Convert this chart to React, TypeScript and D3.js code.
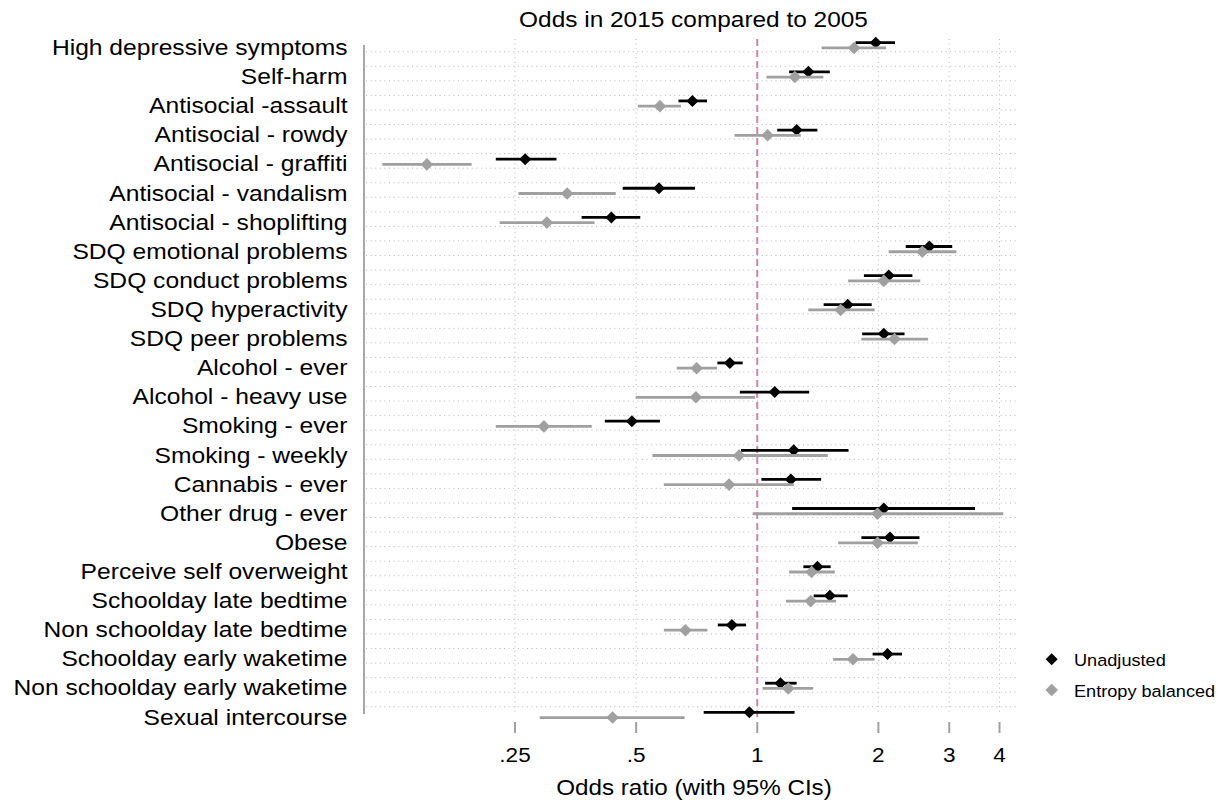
import React from "react";
import * as d3 from "d3";

const labels = [
  "High depressive symptoms",
  "Self-harm",
  "Antisocial -assault",
  "Antisocial - rowdy",
  "Antisocial - graffiti",
  "Antisocial - vandalism",
  "Antisocial - shoplifting",
  "SDQ emotional problems",
  "SDQ conduct problems",
  "SDQ hyperactivity",
  "SDQ peer problems",
  "Alcohol - ever",
  "Alcohol - heavy use",
  "Smoking - ever",
  "Smoking - weekly",
  "Cannabis - ever",
  "Other drug - ever",
  "Obese",
  "Perceive self overweight",
  "Schoolday late bedtime",
  "Non schoolday late bedtime",
  "Schoolday early waketime",
  "Non schoolday early waketime",
  "Sexual intercourse",
];

const unadjOR = [1.97, 1.34, 0.69, 1.253, 0.265, 0.57, 0.434, 2.678, 2.122, 1.678, 2.063, 0.855, 1.105, 0.488, 1.232, 1.212, 2.063, 2.137, 1.411, 1.515, 0.865, 2.107, 1.142, 0.956];
const unadjLo = [1.755, 1.2, 0.637, 1.121, 0.224, 0.463, 0.366, 2.339, 1.841, 1.462, 1.823, 0.796, 0.905, 0.418, 0.911, 1.024, 1.221, 1.815, 1.302, 1.381, 0.798, 1.935, 1.046, 0.736];
const unadjHi = [2.2, 1.515, 0.75, 1.411, 0.317, 0.7, 0.512, 3.052, 2.43, 1.925, 2.323, 0.92, 1.346, 0.573, 1.686, 1.441, 3.477, 2.53, 1.522, 1.678, 0.938, 2.29, 1.253, 1.238];

const balOR = [1.74, 1.24, 0.573, 1.061, 0.151, 0.337, 0.3, 2.572, 2.063, 1.611, 2.194, 0.707, 0.704, 0.295, 0.901, 0.851, 1.99, 1.99, 1.365, 1.358, 0.663, 1.73, 1.195, 0.437];
const balLo = [1.445, 1.054, 0.505, 0.878, 0.117, 0.255, 0.229, 2.122, 1.682, 1.339, 1.815, 0.631, 0.499, 0.224, 0.549, 0.586, 0.974, 1.589, 1.2, 1.178, 0.586, 1.544, 1.031, 0.288];
const balHi = [2.09, 1.46, 0.646, 1.283, 0.195, 0.445, 0.394, 3.125, 2.542, 1.957, 2.659, 0.794, 0.988, 0.388, 1.497, 1.232, 4.087, 2.506, 1.559, 1.57, 0.752, 1.957, 1.378, 0.66];

const tickValues = [0.25, 0.5, 1, 2, 3, 4];
const tickLabels = [".25", ".5", "1", "2", "3", "4"];
const seriesNames = ["Unadjusted", "Entropy balanced"];

const FONT = "'Liberation Sans', Arial, Helvetica, sans-serif";

function T({ x, y, size, anchor = "start", sx = 1.1, children }: any) {
  return (
    <text
      transform={`translate(${x},${y}) scale(${sx},1)`}
      fontSize={size}
      fontFamily={FONT}
      textAnchor={anchor}
      fill="#000"
    >
      {children}
    </text>
  );
}

function diamond(cx: number, cy: number, r: number) {
  return `M${cx},${cy - r}L${cx + r},${cy}L${cx},${cy + r}L${cx - r},${cy}Z`;
}

export default function App() {
  const W = 1232;
  const H = 805;
  const x = d3.scaleLog().base(2).domain([0.25, 4]).range([515, 999.5]);
  const y = d3.scaleLinear().domain([0, labels.length - 1]).range([42.7, 712.3]);
  const grayOff = 0.18;
  const plotLeft = 364;
  const plotRight = 1019;
  const gridTop = 39;
  const gridBottom = 715;

  const hGrid = d3.range(46).map((k) => y(0.31 + 0.5 * k));
  const black = "#000";
  const gray = "#a0a0a0";

  return (
    <svg width={W} height={H} style={{ position: "absolute", left: 0, top: 0, background: "#fff" }}>
      <rect x={0} y={0} width={W} height={H} fill="#fff" />
      {hGrid.map((gy, k) => (
        <line key={"h" + k} x1={plotLeft + 2} x2={plotRight} y1={gy} y2={gy} stroke="#b8b8b8" strokeWidth={1} strokeDasharray="1,3.6" />
      ))}
      {tickValues.filter((v) => v !== 1).map((v, k) => (
        <line key={"v" + k} x1={x(v)} x2={x(v)} y1={gridTop} y2={gridBottom} stroke="#b8b8b8" strokeWidth={1} strokeDasharray="1,3.6" />
      ))}
      <line x1={plotLeft} x2={plotLeft} y1={45} y2={714} stroke="#a8a8a8" strokeWidth={2} />
      {tickValues.map((v, k) => (
        <line key={"t" + k} x1={x(v)} x2={x(v)} y1={722} y2={733} stroke="#a0a0a0" strokeWidth={2} />
      ))}
      <line x1={x(1)} x2={x(1)} y1={gridTop} y2={718} stroke="#d083ad" strokeWidth={2} strokeDasharray="7,4" />
      {labels.map((_, i) => (
        <g key={"u" + i}>
          <line x1={x(unadjLo[i])} x2={x(unadjHi[i])} y1={y(i)} y2={y(i)} stroke={black} strokeWidth={2.8} />
          <path d={diamond(x(unadjOR[i]), y(i), 6)} fill={black} />
        </g>
      ))}
      {labels.map((_, i) => (
        <g key={"b" + i}>
          <line x1={x(balLo[i])} x2={x(balHi[i])} y1={y(i + grayOff)} y2={y(i + grayOff)} stroke={gray} strokeWidth={2.8} />
          <path d={diamond(x(balOR[i]), y(i + grayOff), 6.3)} fill={gray} />
        </g>
      ))}
      {labels.map((l, i) => (
        <T key={"l" + i} x={347.5} y={y(i) + 12.3} size={22} anchor="end" sx={1.12}>
          {l}
        </T>
      ))}
      {tickValues.map((v, k) => (
        <T key={"tl" + k} x={x(v)} y={762} size={20.5} anchor="middle">
          {tickLabels[k]}
        </T>
      ))}
      <T x={693.5} y={26.7} size={22} anchor="middle" sx={1.11}>
        Odds in 2015 compared to 2005
      </T>
      <T x={694} y={795} size={22} anchor="middle">
        Odds ratio (with 95% CIs)
      </T>
      <path d={diamond(1051.7, 659.3, 6)} fill={black} />
      <T x={1074} y={666} size={16.5}>
        {seriesNames[0]}
      </T>
      <path d={diamond(1051.7, 690, 6.3)} fill={gray} />
      <T x={1074} y={696.5} size={16.5}>
        {seriesNames[1]}
      </T>
    </svg>
  );
}
